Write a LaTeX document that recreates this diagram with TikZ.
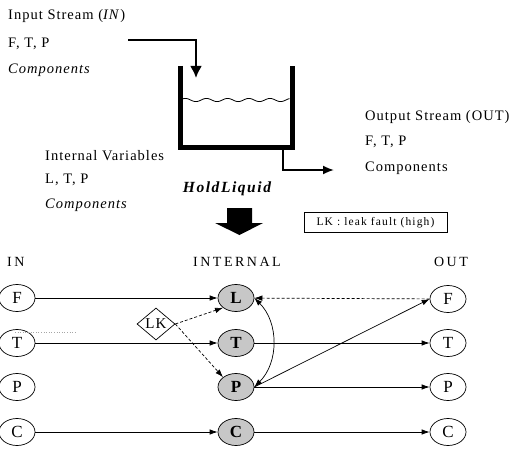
\documentclass[tikz,border=0pt]{standalone}
\usepackage{fontspec}
\setmainfont[LetterSpace=7]{Liberation Serif}
\newfontfamily\hdrfont[LetterSpace=18]{Liberation Serif}
\newfontfamily\boxfont[LetterSpace=10]{Liberation Serif}
\usetikzlibrary{shapes.geometric,arrows.meta}
\begin{document}
\begin{tikzpicture}[x=1pt,y=-1pt,
  lbl/.style={anchor=west,inner sep=0pt,font=\fontsize{14.5}{16}\selectfont},
  hdr/.style={inner sep=0pt,font=\hdrfont\fontsize{14}{16}\selectfont},
  var/.style={ellipse,draw,line width=0.7pt,minimum width=36pt,minimum height=27pt,inner sep=0pt,font=\fontsize{17}{19}\selectfont},
  intvar/.style={var,fill=black!22,font=\fontsize{17}{19}\selectfont\bfseries},
  conn/.style={line width=0.7pt,-{Latex[length=8pt,width=5.5pt]}},
  dconn/.style={conn,dashed,dash pattern=on 3pt off 2pt}]
\useasboundingbox (0,0) rectangle (517,452);
% top texts
\node[lbl] (in1) at (8,16) {Input Stream (\textit{IN})};
\node[lbl] (in2) at (8,44) {F, T, P};
\node[lbl] (in3) at (8,70) {\textit{Components}};
\node[lbl] (iv1) at (45,156) {Internal Variables};
\node[lbl] (iv2) at (45,180) {L, T, P};
\node[lbl] (iv3) at (45,205) {\textit{Components}};
\node[inner sep=0pt,font=\boxfont\fontsize{15.5}{17}\selectfont\bfseries\itshape] (hl) at (227,189) {HoldLiquid};
\node[lbl] (os1) at (365,117) {Output Stream (OUT)};
\node[lbl] (os2) at (365,142) {F, T, P};
\node[lbl] (os3) at (365,168) {Components};
% tank
\draw[line width=5pt] (180.5,66) -- (180.5,147) -- (292,147) -- (292,66);
\draw[line width=0.8pt] plot[domain=183:289.5,samples=80] (\x,{100+1.6*sin(\x*17)});
% input pipe
\coordinate (pin0) at (128,40);
\coordinate (pin1) at (196,40);
\coordinate (pin2) at (196,78);
\draw[line width=2.2pt,-{Latex[length=12pt,width=12pt]}] (pin0) -- (pin1) -- (pin2);
% output pipe
\coordinate (pout0) at (283,149);
\coordinate (pout1) at (283,170);
\coordinate (pout2) at (334,170);
\draw[line width=1.8pt,-{Latex[length=11pt,width=9pt]}] (pout0) -- (pout1) -- (pout2);
% block arrow
\fill (227,208) -- (252,208) -- (252,223) -- (263,223) -- (239.5,235) -- (215,223) -- (227,223) -- cycle;
% legend box
\node[draw,line width=0.6pt,minimum width=143pt,minimum height=20pt,inner sep=0pt,font=\boxfont\fontsize{11.5}{13}\selectfont] (lkbox) at (375.5,222.5) {LK : leak fault (high)};
% headers
\node[hdr,anchor=west] (hin) at (7,262) {IN};
\node[hdr] (hint) at (237,262) {INTERNAL};
\node[hdr] (hout) at (451,262) {OUT};
% variable nodes
\node[var] (inF) at (17,298) {F};
\node[var] (inT) at (17,343) {T};
\node[var] (inP) at (17,387) {P};
\node[var] (inC) at (17,432) {C};
\node[intvar] (iL) at (236,298) {L};
\node[intvar] (iT) at (236,343) {T};
\node[intvar] (iP) at (236,387) {P};
\node[intvar] (iC) at (236,432) {C};
\node[var] (oF) at (448,299) {F};
\node[var] (oT) at (448,343) {T};
\node[var] (oP) at (448,387) {P};
\node[var] (oC) at (448,432) {C};
\node[diamond,draw,line width=0.7pt,minimum width=38pt,minimum height=32pt,inner sep=0pt,font=\fontsize{15}{17}\selectfont] (lk) at (156,324) {LK};
% stray scan mark
\coordinate (s0) at (15,332);
\coordinate (s1) at (77,332);
\draw[gray!70,line width=0.6pt,dotted] (s0) -- (s1);
% connectors
\draw[conn] (inF) -- (iL);
\draw[conn] (inT) -- (iT);
\draw[conn] (inC) -- (iC);
\draw[conn] (iT) -- (oT);
\draw[conn] (iP) -- (oP);
\draw[conn] (iC) -- (oC);
\draw[dconn] (oF) -- (iL);
\draw[conn] (iP.east) -- (oF.west);
\draw[conn,{Latex[length=8pt,width=5.5pt]}-{Latex[length=8pt,width=5.5pt]}] (iL.east) to[bend left=45] (iP.east);
\draw[dconn] (lk.east) -- (iL.south west);
\draw[dconn] (lk.east) -- (iP.north west);
\end{tikzpicture}
\end{document}
